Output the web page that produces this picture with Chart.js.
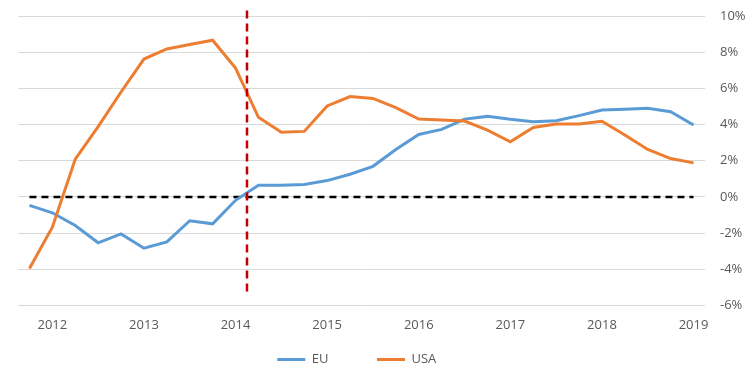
<!DOCTYPE html>
<html>
<head>
<meta charset="utf-8">
<script src="https://cdn.jsdelivr.net/npm/chart.js@4/dist/chart.umd.min.js"></script>
<style>
  html, body { margin: 0; padding: 0; background: #fff; }
  #wrap { width: 753px; height: 384px; }
</style>
</head>
<body>
<div id="wrap"><canvas id="chart"></canvas></div>
<script>
// Quarterly points, 2011 Q4 .. 2019 Q1 (only Q1 carries the year label)
const quarterLabels = ['', '2012', '', '', '', '2013', '', '', '', '2014', '', '', '', '2015', '', '',
    '', '2016', '', '', '', '2017', '', '', '', '2018', '', '', '', '2019'];

const euValues = [-0.47, -0.88, -1.58, -2.54, -2.05, -2.84, -2.49, -1.32, -1.49, -0.19,
    0.64, 0.64, 0.69, 0.9, 1.25, 1.69, 2.62, 3.45, 3.73, 4.3,
    4.45, 4.29, 4.16, 4.21, 4.49, 4.8, 4.84, 4.9, 4.71, 3.97];

const usaValues = [-3.96, -1.68, 2.08, 3.88, 5.8, 7.62, 8.18, 8.42, 8.66, 7.12,
    4.4, 3.57, 3.62, 5.03, 5.55, 5.44, 4.93, 4.3, 4.25, 4.19,
    3.69, 3.04, 3.84, 4.03, 4.03, 4.18, 3.42, 2.62, 2.12, 1.88];

const zeroValues = quarterLabels.map(() => 0);

const yTicks = [-6, -4, -2, 0, 2, 4, 6, 8, 10];

// red dashed marker between 2014 Q1 and Q2
const markerIndex = 9.5;
const markerFrom = -5.5;
const markerTo = 10.3;

const textColor = '#595959';
Chart.defaults.font.family = '"Open Sans", "Liberation Sans", sans-serif';
Chart.defaults.font.size = 13;
Chart.defaults.color = textColor;

const markerPlugin = {
    id: 'marker',
    afterDatasetsDraw(chart) {
        const x = chart.scales.x.getPixelForValue(markerIndex);
        const y1 = chart.scales.y.getPixelForValue(markerTo);
        const y2 = chart.scales.y.getPixelForValue(markerFrom);
        const ctx = chart.ctx;
        ctx.save();
        ctx.strokeStyle = '#C00000';
        ctx.lineWidth = 2.5;
        ctx.setLineDash([8, 5]);
        ctx.beginPath();
        ctx.moveTo(x, y1);
        ctx.lineTo(x, y2);
        ctx.stroke();
        ctx.restore();
    }
};

new Chart(document.getElementById('chart'), {
    type: 'line',
    data: {
        labels: quarterLabels,
        datasets: [
            {
                label: 'USA',
                data: usaValues,
                borderColor: '#ED7D31',
                backgroundColor: '#ED7D31',
                borderWidth: 3,
                pointRadius: 0,
                tension: 0
            },
            {
                label: 'EU',
                data: euValues,
                borderColor: '#5B9BD5',
                backgroundColor: '#5B9BD5',
                borderWidth: 3,
                pointRadius: 0,
                tension: 0
            },
            {
                label: 'zero',
                data: zeroValues,
                borderColor: '#000000',
                borderWidth: 2.5,
                borderDash: [7, 5],
                pointRadius: 0
            }
        ]
    },
    options: {
        responsive: true,
        maintainAspectRatio: false,
        animation: false,
        layout: { padding: { left: 18, right: 0, top: 16, bottom: 8 } },
        plugins: {
            legend: {
                position: 'bottom',
                labels: {
                    usePointStyle: true,
                    pointStyle: 'line',
                    pointStyleWidth: 28,
                    padding: 8,
                    filter: item => item.text !== 'zero',
                    sort: (a, b) => b.datasetIndex - a.datasetIndex,
                    generateLabels: chart => {
                        const items = Chart.defaults.plugins.legend.labels.generateLabels(chart);
                        // pad the entries so spacing/offset match the original legend
                        items.forEach(it => {
                            if (it.text === 'EU') it.text = 'EU' + ' '.repeat(12);
                            if (it.text === 'USA') it.text = 'USA' + ' '.repeat(17);
                        });
                        return items;
                    }
                }
            },
            tooltip: { enabled: false }
        },
        scales: {
            x: {
                offset: true,
                grid: { display: false, drawTicks: false },
                border: { display: false },
                ticks: { autoSkip: false, maxRotation: 0, padding: 12 }
            },
            y: {
                position: 'right',
                min: -6,
                max: 10,
                afterBuildTicks: axis => { axis.ticks = yTicks.map(v => ({ value: v })); },
                afterFit: axis => {
                    axis.width = 48;
                    axis.paddingTop = 8;
                    axis.paddingBottom = 8;
                },
                grid: { color: '#d9d9d9', drawTicks: false },
                border: { display: false },
                ticks: { padding: 15, callback: v => v + '%' }
            }
        }
    },
    plugins: [markerPlugin]
});
</script>
</body>
</html>
